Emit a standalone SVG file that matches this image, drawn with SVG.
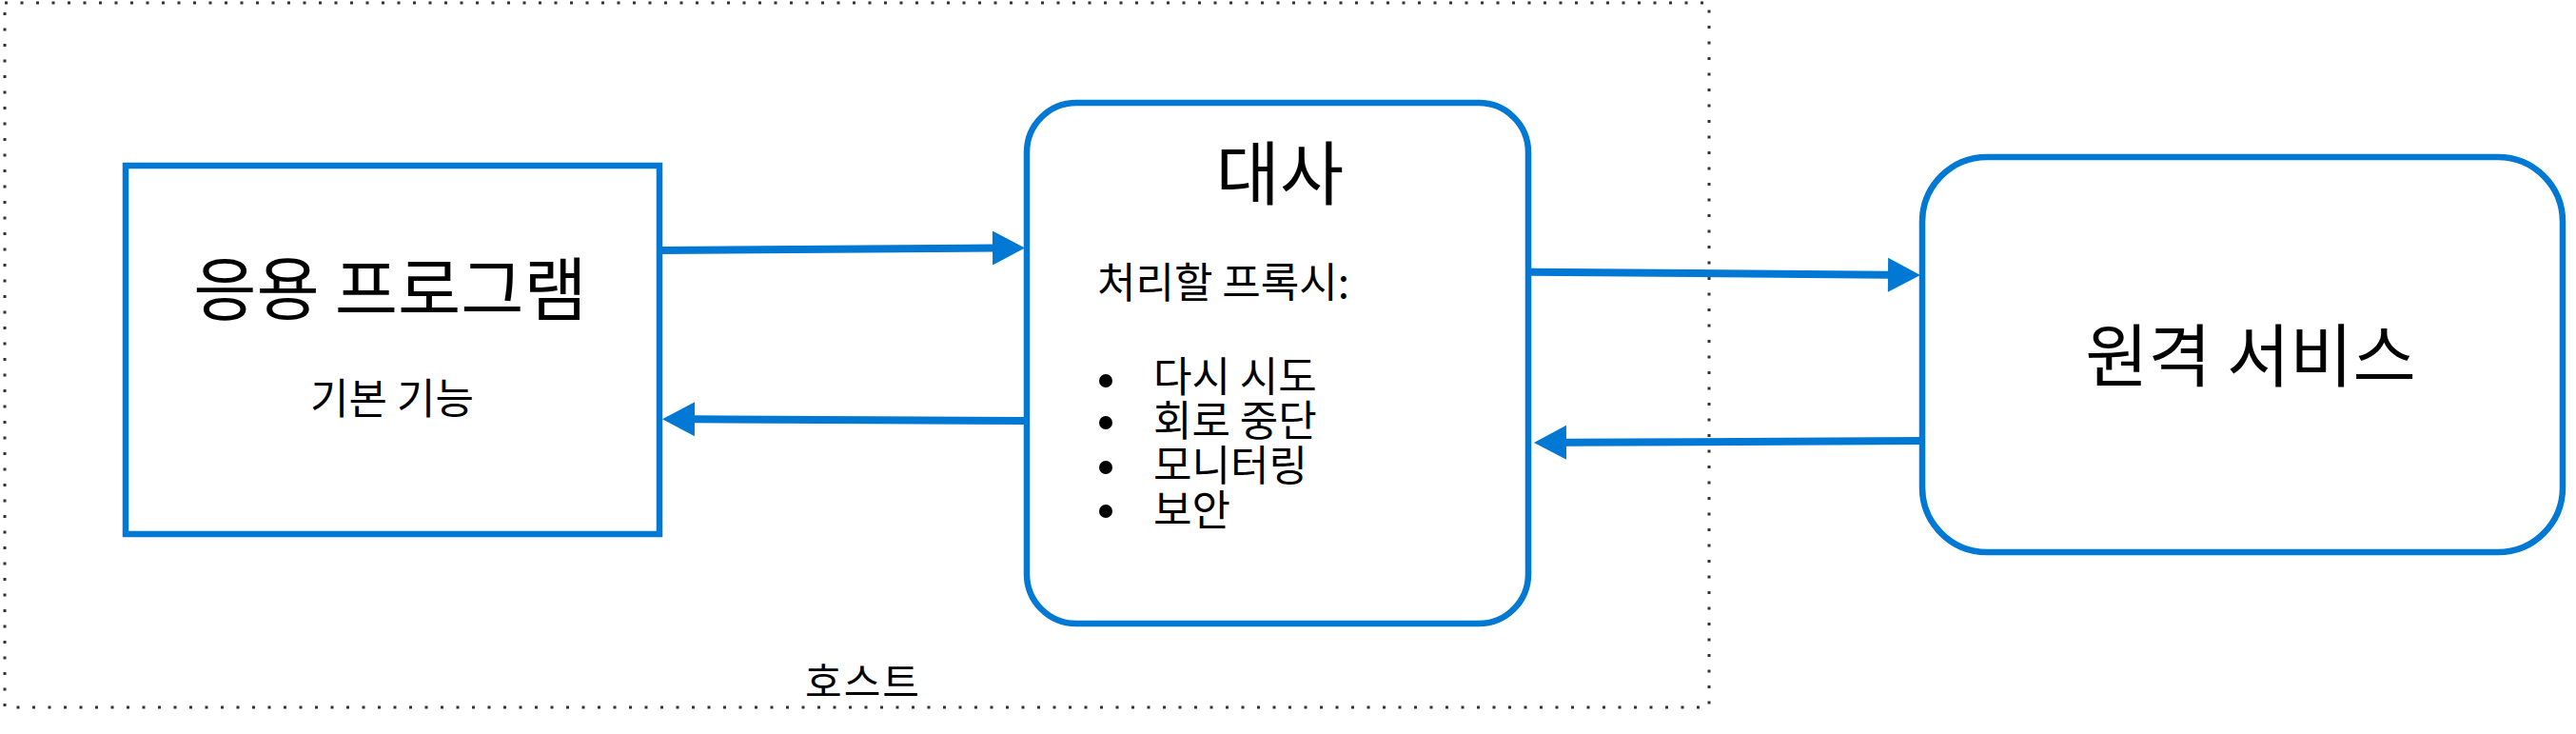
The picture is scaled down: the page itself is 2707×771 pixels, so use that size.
<svg xmlns="http://www.w3.org/2000/svg" width="2707" height="771" viewBox="0 0 2707 771">
<style>
  text { font-family: "Noto Sans CJK KR", "Noto Sans", sans-serif; fill: #000; }
  .box { fill: #fff; stroke: #0078D4; stroke-width: 6.5; }
  .conn { stroke: #0078D4; stroke-width: 8; fill: none; }
  .big { font-size: 72px; }
  .mid { font-size: 44px; }
</style>
<defs>
  <marker id="ah" markerUnits="userSpaceOnUse" markerWidth="36" markerHeight="38" refX="1" refY="18" orient="auto" overflow="visible">
    <path d="M0,0 L34,18 L0,36 z" fill="#0078D4"/>
  </marker>
</defs>
<rect width="2707" height="771" fill="#fff"/>
<g id="host">
  <rect x="5" y="3" width="1791" height="740" fill="none" stroke="#333" stroke-width="3" stroke-dasharray="3 13.5"/>
  <text x="907" y="732" font-size="42" text-anchor="middle" letter-spacing="2">호스트</text>
</g>
<g id="app">
  <rect class="box" x="132" y="174" width="561" height="387"/>
  <text class="big" x="410" y="330" text-anchor="middle">응용 프로그램</text>
  <text class="mid" x="412" y="435" text-anchor="middle">기본 기능</text>
</g>
<g id="proxy">
  <rect class="box" x="1079" y="108" width="527" height="547" rx="52" ry="52"/>
  <text x="1345" y="209" font-size="73" text-anchor="middle">대사</text>
  <text class="mid" x="1153" y="313">처리할 프록시:</text>
  <g>
    <circle cx="1162" cy="400" r="7"/>
    <circle cx="1162" cy="444" r="7"/>
    <circle cx="1162" cy="491" r="7"/>
    <circle cx="1162" cy="537" r="7"/>
    <text class="mid" x="1212" y="412">다시 시도</text>
    <text class="mid" x="1212" y="458">회로 중단</text>
    <text class="mid" x="1212" y="505">모니터링</text>
    <text class="mid" x="1212" y="552">보안</text>
  </g>
</g>
<g id="remote">
  <rect class="box" x="2020" y="165" width="673" height="415" rx="68" ry="68"/>
  <text class="big" x="2365" y="400" text-anchor="middle">원격 서비스</text>
</g>
<g id="connectors">
  <path class="conn" d="M692,263 L1044,260.6" marker-end="url(#ah)"/>
  <path class="conn" d="M1081,442 L729,440.3" marker-end="url(#ah)"/>
  <path class="conn" d="M1607,285.7 L1985,288.7" marker-end="url(#ah)"/>
  <path class="conn" d="M2020,463 L1645,464.8" marker-end="url(#ah)"/>
</g>
</svg>
